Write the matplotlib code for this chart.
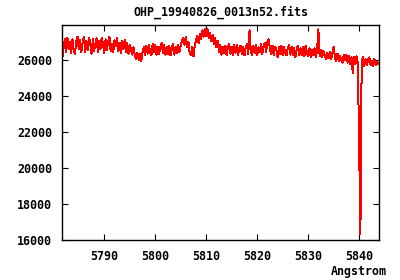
import numpy as np
import matplotlib
matplotlib.use('Agg')
import matplotlib.pyplot as plt

lambda_inicio = 5781.75
lambda_passo = 0.25
fluxo = [
    26100, 26650, 27150, 26450, 27250, 26600, 27000, 26400,
    27150, 26550, 26350, 27050, 27300, 26600, 27100, 26450,
    26950, 27300, 26450, 27050, 26550, 27250, 26900, 26350,
    27150, 26500, 26900, 27200, 26450, 27050, 26600, 27250,
    26850, 26400, 27150, 26550, 27000, 27300, 26500, 26900,
    26450, 27100, 26750, 27200, 26500, 26950, 26400, 27050,
    26600, 27100, 26450, 26950, 26350, 26850, 26550, 26300,
    26700, 26250, 26050, 26400, 26000, 26350, 25950, 26450,
    26700, 26250, 26800, 26350, 26850, 26400, 26250, 26900,
    26450, 26850, 26300, 26700, 26350, 26750, 26950, 26400,
    26850, 26300, 26750, 26350, 26800, 26250, 26650, 26900,
    26300, 26750, 26400, 26850, 26450, 26800, 27050, 27250,
    26850, 27300, 26700, 27000, 26400, 26250, 26700, 26200,
    26800, 27100, 27350, 26950, 27450, 27150, 27650, 27300,
    27750, 27350, 27700, 27200, 27500, 27050, 27400, 26900,
    27250, 26700, 27050, 26450, 26850, 26300, 26750, 26400,
    26800, 26250, 26700, 26900, 26350, 26750, 26250, 26850,
    26400, 26850, 26300, 26700, 26800, 26350, 26750, 26250,
    26700, 26900, 26350, 27650, 26450, 26250, 26800, 26400,
    26850, 26250, 26700, 26450, 26900, 26350, 26750, 26950,
    26450, 27000, 27150, 26600, 26350, 26800, 26250, 26700,
    26600, 26150, 26700, 26350, 26800, 26250, 26700, 26400,
    26250, 26650, 26850, 26300, 26750, 26250, 26650, 26150,
    26600, 26800, 26250, 26650, 26300, 26700, 26200, 26800,
    26400, 26200, 26650, 26150, 26550, 26250, 26650, 26150,
    26500, 27700, 26200, 26550, 26150, 26500, 26250, 26050,
    26400, 26100, 26450, 26050, 26350, 26750, 26150, 25950,
    26350, 25950, 26250, 26000, 25850, 26300, 26000, 26300,
    25850, 26250, 25800, 26150, 25300, 26150, 25750, 26200,
    25800, 21300, 16330, 26000, 26150, 25650, 26050, 25700,
    26000, 26150, 25700, 25950, 25650, 26050, 25700, 25900,
    25800,
]
comprimento_onda = lambda_inicio + lambda_passo * np.arange(len(fluxo))

titulo = 'OHP_19940826_0013n52.fits'
x_ticks = [5790, 5800, 5810, 5820, 5830, 5840]
y_ticks = [16000, 18000, 20000, 22000, 24000, 26000]

fonte = {'family': 'DejaVu Sans Mono', 'weight': 'bold', 'size': 8.4}

fig = plt.figure(figsize=(4, 2.8), dpi=100)
ax = fig.add_axes([62 / 400, 40 / 280, 317 / 400, 215 / 280])
ax.plot(comprimento_onda, fluxo, color='red', lw=0.72, antialiased=False)

ax.set_xlim(5781.7, 5843.9)
ax.set_ylim(16000, 27944)
ax.set_xticks(x_ticks)
ax.set_yticks(y_ticks)
ax.set_xticklabels([str(v) for v in x_ticks], fontdict=fonte)
ax.set_yticklabels([str(v) for v in y_ticks], fontdict=fonte)
ax.tick_params(direction='in', length=4, width=0.8, top=True, right=True, pad=7)
for lado in ax.spines.values():
    lado.set_linewidth(1.0)

ax.set_title(titulo, fontdict=fonte, pad=7)
fig.text(387 / 400, 1 - 271 / 280, 'Angstrom', ha='right', va='center', fontdict=fonte)

fig.savefig('out.png', dpi=100)
